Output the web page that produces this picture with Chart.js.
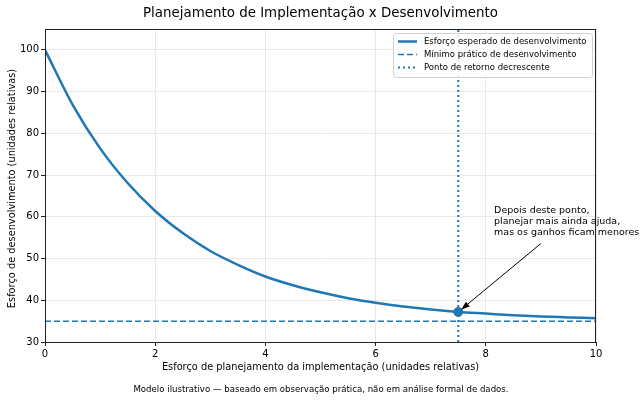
<!DOCTYPE html>
<html>
<head>
<meta charset="utf-8">
<script src="https://cdn.jsdelivr.net/npm/chart.js@4/dist/chart.umd.min.js"></script>
<style>
  html, body { margin: 0; padding: 0; background: #fff; }
  #wrap { width: 640px; height: 402px; }
</style>
</head>
<body>
<div id="wrap"><canvas id="chart" width="640" height="402"></canvas></div>
<script>
// esforço de planejamento (eixo x) e esforço de desenvolvimento (eixo y)
const planejamento = [0, 0.5, 1, 1.5, 2, 2.5, 3, 3.5, 4, 4.5, 5, 5.5, 6, 6.5, 7, 7.5, 8, 8.5, 9, 9.5, 10];
const desenvolvimento = [100, 86.9, 76.4, 68.1, 61.4, 56.1, 51.8, 48.5, 45.7, 43.6, 41.9, 40.5, 39.4, 38.5, 37.8, 37.2, 36.8, 36.4, 36.1, 35.9, 35.7];
const minimoPratico = 35;
const pontoRetorno = { x: 7.5, y: 37.2 };
const textoAnotacao = ['Depois deste ponto,', 'planejar mais ainda ajuda,', 'mas os ganhos ficam menores'];
const posTexto = { x: 8.15, y: 61.4 };
const origemSeta = { x: 9.0, y: 53.6 };

const xTicks = [0, 2, 4, 6, 8, 10];
const yTicks = [30, 40, 50, 60, 70, 80, 90, 100];

const azul = '#1f77b4';
const fonte = '"DejaVu Sans", sans-serif';

const legendItems = [
    { label: 'Esforço esperado de desenvolvimento', dash: [], width: 2.5 },
    { label: 'Mínimo prático de desenvolvimento', dash: [6, 3], width: 1.5 },
    { label: 'Ponto de retorno decrescente', dash: [2, 3], width: 2 }
];

// desenha título, moldura, legenda, anotação e rodapé
const extras = {
    id: 'extras',
    afterDatasetsDraw(chart) {
        const ctx = chart.ctx;
        const a = chart.chartArea;
        const xs = chart.scales.x, ys = chart.scales.y;
        ctx.save();

        // moldura
        ctx.strokeStyle = '#222';
        ctx.lineWidth = 1;
        ctx.strokeRect(a.left + 0.5, a.top + 0.5, a.right - a.left - 1, a.bottom - a.top);

        // título
        ctx.fillStyle = '#000';
        ctx.font = '13.4px ' + fonte;
        ctx.textAlign = 'center';
        ctx.textBaseline = 'middle';
        ctx.fillText('Planejamento de Implementação x Desenvolvimento', (a.left + a.right) / 2, 14);

        // títulos dos eixos
        ctx.font = '9.8px ' + fonte;
        ctx.fillText('Esforço de planejamento da implementação (unidades relativas)', (a.left + a.right) / 2, 367);
        ctx.save();
        ctx.translate(12, (a.top + a.bottom) / 2 + 3);
        ctx.rotate(-Math.PI / 2);
        ctx.fillText('Esforço de desenvolvimento (unidades relativas)', 0, 0);
        ctx.restore();

        // rodapé
        ctx.font = '8.6px ' + fonte;
        ctx.fillText('Modelo ilustrativo — baseado em observação prática, não em análise formal de dados.', 321, 390);

        // legenda
        const lx = 393, ly = 33, lw = 199, lh = 44;
        ctx.fillStyle = 'rgba(255,255,255,0.85)';
        ctx.strokeStyle = '#d0d0d0';
        ctx.lineWidth = 1;
        ctx.beginPath();
        ctx.roundRect(lx + 0.5, ly + 0.5, lw, lh, 3);
        ctx.fill();
        ctx.stroke();
        ctx.font = '8.5px ' + fonte;
        ctx.textAlign = 'left';
        legendItems.forEach((it, i) => {
            const yy = ly + 8.5 + i * 13;
            ctx.strokeStyle = azul;
            ctx.lineWidth = it.width;
            ctx.setLineDash(it.dash);
            ctx.beginPath();
            ctx.moveTo(lx + 5, yy);
            ctx.lineTo(lx + 24, yy);
            ctx.stroke();
            ctx.setLineDash([]);
            ctx.fillStyle = '#000';
            ctx.fillText(it.label, lx + 31, yy);
        });

        // anotação com seta
        const px = xs.getPixelForValue(pontoRetorno.x), py = ys.getPixelForValue(pontoRetorno.y);
        const sx = xs.getPixelForValue(origemSeta.x), sy = ys.getPixelForValue(origemSeta.y);
        const ang = Math.atan2(py - sy, px - sx);
        const ex = px - Math.cos(ang) * 4, ey = py - Math.sin(ang) * 4;
        ctx.strokeStyle = '#000';
        ctx.fillStyle = '#000';
        ctx.lineWidth = 1;
        ctx.beginPath();
        ctx.moveTo(sx, sy);
        ctx.lineTo(ex, ey);
        ctx.stroke();
        ctx.beginPath();
        ctx.moveTo(ex, ey);
        ctx.lineTo(ex - 9 * Math.cos(ang - 0.35), ey - 9 * Math.sin(ang - 0.35));
        ctx.lineTo(ex - 9 * Math.cos(ang + 0.35), ey - 9 * Math.sin(ang + 0.35));
        ctx.closePath();
        ctx.fill();

        ctx.font = '9.5px ' + fonte;
        const tx = xs.getPixelForValue(posTexto.x), ty = ys.getPixelForValue(posTexto.y);
        textoAnotacao.forEach((linha, i) => ctx.fillText(linha, tx, ty + i * 11));
        ctx.restore();
    }
};

new Chart(document.getElementById('chart'), {
    type: 'scatter',
    data: {
        datasets: [
            {
                data: planejamento.map((x, i) => ({ x: x, y: desenvolvimento[i] })),
                showLine: true, borderColor: azul, borderWidth: 2.5, pointRadius: 0,
                cubicInterpolationMode: 'monotone', order: 2
            },
            {
                data: [{ x: 0, y: minimoPratico }, { x: 10, y: minimoPratico }],
                showLine: true, borderColor: azul, borderWidth: 1.5, borderDash: [6, 3], pointRadius: 0, order: 3
            },
            {
                data: [{ x: pontoRetorno.x, y: 30 }, { x: pontoRetorno.x, y: 105 }],
                showLine: true, borderColor: azul, borderWidth: 2, borderDash: [2, 3], pointRadius: 0, order: 3
            },
            {
                data: [pontoRetorno],
                backgroundColor: azul, borderColor: azul, pointRadius: 4.5, order: 1
            }
        ]
    },
    options: {
        responsive: false,
        animation: false,
        layout: { padding: { left: 0, right: 44, top: 29, bottom: 0 } },
        plugins: { legend: { display: false }, tooltip: { enabled: false } },
        scales: {
            x: {
                type: 'linear', min: 0, max: 10,
                afterBuildTicks: s => { s.ticks = xTicks.map(v => ({ value: v })); },
                afterFit: s => { s.height = 60; },
                grid: { color: '#e8e8e8', tickColor: '#222', tickLength: 4 },
                border: { display: false },
                ticks: { color: '#000', font: { family: fonte, size: 10 }, padding: 2, maxRotation: 0 }
            },
            y: {
                type: 'linear', min: 30, max: 105,
                afterBuildTicks: s => { s.ticks = yTicks.map(v => ({ value: v })); },
                afterFit: s => { s.width = 45; },
                grid: { color: '#e8e8e8', tickColor: '#222', tickLength: 4 },
                border: { display: false },
                ticks: { color: '#000', font: { family: fonte, size: 10 }, padding: 2 }
            }
        }
    },
    plugins: [extras]
});
</script>
</body>
</html>
